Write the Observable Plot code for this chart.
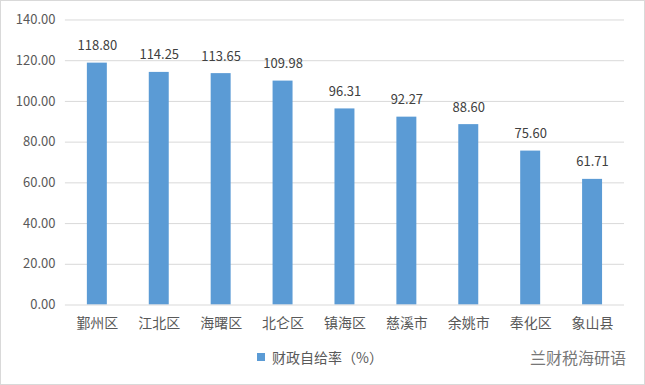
<!DOCTYPE html>
<html><head><meta charset="utf-8">
<script src="https://cdn.jsdelivr.net/npm/d3@7"></script>
<script src="https://cdn.jsdelivr.net/npm/@observablehq/plot@0.6"></script>
<style>
body{margin:0;background:#fff;font-family:"Noto Sans CJK SC",sans-serif;}
#wrap{position:relative;width:643px;height:383px;border:1px solid #d9d9d9;overflow:hidden;}
#chart{position:absolute;left:-1px;top:-1px;}
#legend{position:absolute;left:256px;top:346px;font-size:14px;color:#595959;display:flex;align-items:center;}
#legend .sw{width:8px;height:8px;background:#5b9bd5;margin-right:7px;}
#wm{position:absolute;left:529px;top:344px;font-size:16px;color:#777;}
</style></head>
<body><div id="wrap"><div id="chart"></div>
<div id="legend"><span class="sw"></span><span>财政自给率（%）</span></div>
<div id="wm">兰财税海研语</div></div>
<script>
const categories = ["鄞州区","江北区","海曙区","北仑区","镇海区","慈溪市","余姚市","奉化区","象山县"];
const values = [118.80,114.25,113.65,109.98,96.31,92.27,88.60,75.60,61.71];
const yTicks = [0,20,40,60,80,100,120,140];
const data = categories.map((c,i)=>({cat:c, v:values[i]}));
const chart = Plot.plot({
  width:645, height:340,
  marginTop:19.5, marginBottom:35, marginLeft:65, marginRight:20,
  style:{fontFamily:"'Noto Sans CJK SC', sans-serif", background:"transparent"},
  x:{domain:categories, paddingInner:0.68, paddingOuter:0.34, label:null},
  y:{domain:[0,140], label:null},
  marks:[
    Plot.gridY(yTicks.slice(1), {stroke:"#d9d9d9", strokeOpacity:1}),
    Plot.barY(data, {x:"cat", y:"v", fill:"#5b9bd5"}),
    Plot.ruleY([0], {stroke:"#d9d9d9", strokeWidth:1}),
    Plot.text(data, {x:"cat", y:"v", text:d=>d.v.toFixed(2), lineAnchor:"bottom", dy:-13, fontSize:13, fill:"#404040"}),
    Plot.axisY({ticks:yTicks, tickFormat:d=>d.toFixed(2), tickSize:0, tickPadding:10, fontSize:13, color:"#595959"}),
    Plot.axisX({tickSize:0, tickPadding:13, fontSize:14, color:"#595959"})
  ]
});
document.getElementById("chart").appendChild(chart);
</script></body></html>
